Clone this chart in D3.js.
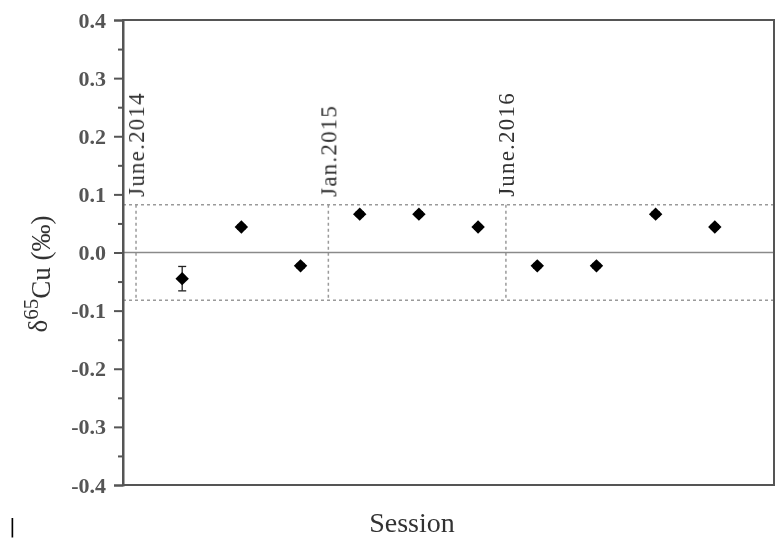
<!DOCTYPE html>
<html>
<head>
<meta charset="utf-8">
<script src="https://cdn.jsdelivr.net/npm/d3@7"></script>
<style>
  body { margin: 0; background: #fff; }
  svg { display: block; }
  svg text { font-family: "Times New Roman", "Liberation Serif", Times, serif; }
</style>
</head>
<body>
<script>
// session number, measured delta65Cu and its error
var sessions = [1, 2, 3, 4, 5, 6, 7, 8, 9, 10];
var delta65Cu = [-0.045, 0.044, -0.023, 0.066, 0.066, 0.044, -0.023, -0.023, 0.066, 0.044];
var errors = [0.021, 0.004, 0.004, 0.004, 0.004, 0.004, 0.004, 0.004, 0.004, 0.004];

// analytical periods (start position on the session axis)
var periodLabels = ["June.2014", "Jan.2015", "June.2016"];
var periodStarts = [0.22, 3.47, 6.47];

// long-term reproducibility band
var band = [-0.082, 0.082];

var yTicks = [-0.4, -0.3, -0.2, -0.1, 0.0, 0.1, 0.2, 0.3, 0.4];
var yMinorTicks = [-0.35, -0.25, -0.15, -0.05, 0.05, 0.15, 0.25, 0.35];

var serif = "'Times New Roman', 'Liberation Serif', Times, serif";

var width = 779,
    height = 538,
    margin = {top: 20, right: 5, bottom: 53, left: 123};

var svg = d3.select("body").append("svg")
    .attr("width", width)
    .attr("height", height)
    .attr("font-family", serif);

// the original is a slightly soft scan
svg.append("defs").append("filter")
    .attr("id", "soft")
    .append("feGaussianBlur")
    .attr("stdDeviation", 0.45);

var root = svg.append("g").attr("filter", "url(#soft)");

var x = d3.scaleLinear()
    .domain([0, 11])
    .range([margin.left, width - margin.right]);

var y = d3.scaleLinear()
    .domain([-0.4, 0.4])
    .range([height - margin.bottom, margin.top]);

var frameColor = "#555";

// band and period separators (dotted)
var dotted = root.append("g")
    .attr("stroke", "#9a9a9a")
    .attr("stroke-width", 1.5)
    .attr("stroke-dasharray", "3,3");

dotted.selectAll("line.band")
    .data(band)
    .enter().append("line")
    .attr("class", "band")
    .attr("x1", x(0)).attr("x2", x(11))
    .attr("y1", function(d) { return y(d); })
    .attr("y2", function(d) { return y(d); });

dotted.selectAll("line.period")
    .data(periodStarts)
    .enter().append("line")
    .attr("class", "period")
    .attr("x1", function(d) { return x(d); })
    .attr("x2", function(d) { return x(d); })
    .attr("y1", y(band[1]))
    .attr("y2", y(band[0]));

// zero line
root.append("line")
    .attr("x1", x(0)).attr("x2", x(11))
    .attr("y1", y(0)).attr("y2", y(0))
    .attr("stroke", "#8a8a8a")
    .attr("stroke-width", 1.6);

// period labels, rotated
root.selectAll("text.period")
    .data(periodLabels)
    .enter().append("text")
    .attr("class", "period")
    .attr("transform", function(d, i) {
        return "translate(" + x(periodStarts[i]) + "," + (y(band[1]) - 8) + ") rotate(-90)";
    })
    .attr("dy", "0.36em")
    .attr("text-anchor", "start")
    .style("font-size", "23px")
    .style("letter-spacing", "1.2px")
    .attr("fill", "#333")
    .text(function(d) { return d; });

// frame
root.append("rect")
    .attr("x", x(0))
    .attr("y", y(0.4))
    .attr("width", x(11) - x(0))
    .attr("height", y(-0.4) - y(0.4))
    .attr("fill", "none")
    .attr("stroke", frameColor)
    .attr("stroke-width", 2);

// y axis
var yAxis = root.append("g")
    .attr("transform", "translate(" + x(0) + ",0)")
    .call(d3.axisLeft(y)
        .tickValues(yTicks)
        .tickSize(9)
        .tickPadding(8)
        .tickFormat(function(d) { return d.toFixed(1); }))
    .attr("font-family", serif)
    .attr("font-size", 22);

yAxis.select(".domain").attr("stroke", frameColor).attr("stroke-width", 2);
yAxis.selectAll(".tick line").attr("stroke", frameColor).attr("stroke-width", 2);
yAxis.selectAll(".tick text")
    .attr("font-weight", "bold")
    .attr("fill", "#555");

root.append("g")
    .attr("transform", "translate(" + x(0) + ",0)")
    .call(d3.axisLeft(y).tickValues(yMinorTicks).tickSize(5).tickFormat(""))
    .call(function(g) { g.select(".domain").remove(); })
    .selectAll(".tick line").attr("stroke", frameColor).attr("stroke-width", 2);

// error bars
var eb = root.append("g").attr("stroke", "#222").attr("stroke-width", 1.3);
sessions.forEach(function(s, i) {
    var cx = x(s),
        top = y(delta65Cu[i] + errors[i]),
        bot = y(delta65Cu[i] - errors[i]);
    eb.append("line").attr("x1", cx).attr("x2", cx).attr("y1", top).attr("y2", bot);
    eb.append("line").attr("x1", cx - 4).attr("x2", cx + 4).attr("y1", top).attr("y2", top);
    eb.append("line").attr("x1", cx - 4).attr("x2", cx + 4).attr("y1", bot).attr("y2", bot);
});

// diamond markers
root.selectAll("path.pt")
    .data(sessions)
    .enter().append("path")
    .attr("class", "pt")
    .attr("d", d3.symbol().type(d3.symbolSquare).size(90))
    .attr("transform", function(d, i) {
        return "translate(" + x(d) + "," + y(delta65Cu[i]) + ") rotate(45)";
    })
    .attr("fill", "#000");

// axis titles
var yTitle = root.append("text")
    .attr("transform", "translate(47," + 274 + ") rotate(-90)")
    .attr("text-anchor", "middle")
    .attr("fill", "#333")
    .style("font-size", "27px");
yTitle.append("tspan").text("δ");
yTitle.append("tspan").attr("dy", "-0.45em").style("font-size", "21px").text("65");
yTitle.append("tspan").attr("dy", "0.45em").text("Cu (‰)");

root.append("text")
    .attr("x", 412)
    .attr("y", 532)
    .attr("text-anchor", "middle")
    .attr("fill", "#333")
    .style("font-size", "28px")
    .text("Session");

// stray mark in the lower left corner of the original
root.append("text")
    .attr("x", 9)
    .attr("y", 533)
    .attr("fill", "#000")
    .style("font-family", "'DejaVu Sans', sans-serif")
    .style("font-size", "20px")
    .text("|");
</script>
</body>
</html>
